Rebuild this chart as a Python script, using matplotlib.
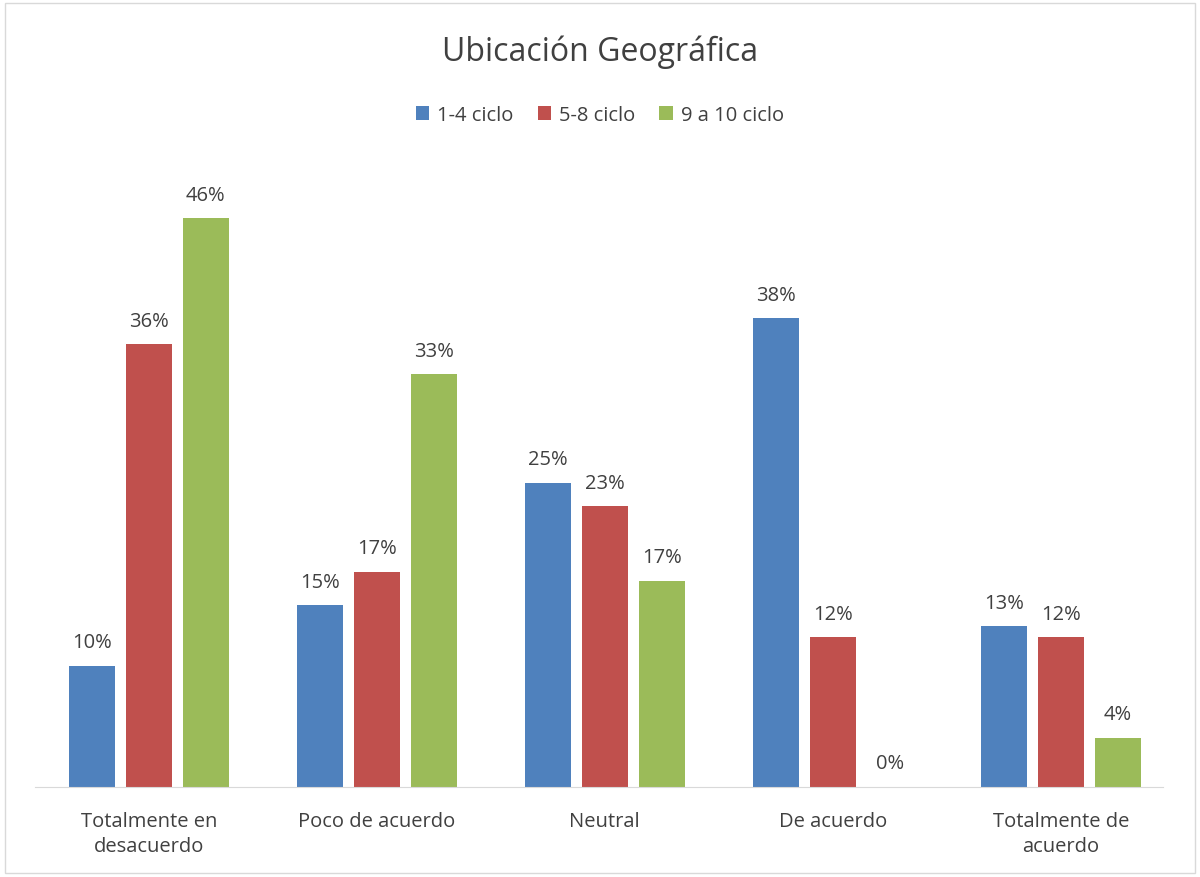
import numpy as np
import matplotlib.pyplot as plt
from matplotlib.patches import Rectangle

plt.rcParams['font.family'] = ['Open Sans', 'DejaVu Sans']

categorias = ['Totalmente en\ndesacuerdo', 'Poco de acuerdo', 'Neutral',
              'De acuerdo', 'Totalmente de\nacuerdo']
series = ['1-4 ciclo', '5-8 ciclo', '9 a 10 ciclo']
ciclo_1_4 = [0.098, 0.147, 0.246, 0.379, 0.130]
ciclo_5_8 = [0.358, 0.174, 0.227, 0.121, 0.121]
ciclo_9_10 = [0.460, 0.334, 0.167, 0.0, 0.040]
colores = ['#4F81BD', '#C0504D', '#9BBB59']

fig = plt.figure(figsize=(12, 8.78), dpi=100)
ax = fig.add_axes([0.029, 0.1025, 0.95, 0.704])

x = np.arange(len(categorias))
ancho = 0.2
for i, (vals, nombre, col) in enumerate(zip([ciclo_1_4, ciclo_5_8, ciclo_9_10], series, colores)):
    pos = x + (i - 1) * 0.25
    ax.bar(pos, vals, width=ancho, color=col, label=nombre)
    for p, v in zip(pos, vals):
        ax.text(p, v + 0.011, '{:.0f}%'.format(v * 100), ha='center', va='bottom',
                fontsize=14.5, color='#404040')

ax.set_xlim(-0.5, 4.5)
ax.set_ylim(0, 0.5)
ax.set_yticks([])
ax.set_xticks(x)
ax.set_xticklabels(categorias, fontsize=14.5, color='#404040', linespacing=1.35)
ax.tick_params(axis='x', length=0, pad=17)
for s in ['top', 'right', 'left']:
    ax.spines[s].set_visible(False)
ax.spines['bottom'].set_color('#D9D9D9')
ax.spines['bottom'].set_bounds(-0.5, 4.45)

fig.text(0.5, 0.94, 'Ubicación Geográfica', ha='center', va='center',
         fontsize=23, color='#404040')
fig.legend(loc='center', bbox_to_anchor=(0.5, 0.868), ncol=3, frameon=False,
           fontsize=14.5, handlelength=0.65, handleheight=0.65, columnspacing=1.2,
           handletextpad=0.4, labelcolor='#404040')

fig.patches.append(Rectangle((0.004, 0.004), 0.992, 0.992, transform=fig.transFigure,
                             fill=False, edgecolor='#D9D9D9', linewidth=1))

fig.savefig('out.png', dpi=100)
